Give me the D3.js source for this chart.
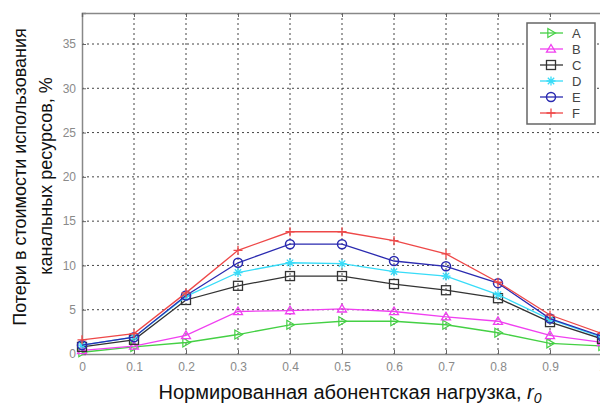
<!DOCTYPE html>
<html>
<head>
<meta charset="UTF-8"/>
<script src="https://d3js.org/d3.v7.min.js"></script>
<style>
  body { margin: 0; background: #fff; }
  text { font-family: "Liberation Sans", Arial, sans-serif; }
</style>
</head>
<body>
<script>
    // Data
    var loads = [0, 0.1, 0.2, 0.3, 0.4, 0.5, 0.6, 0.7, 0.8, 0.9, 1.0];
    var seriesNames = ["A", "B", "C", "D", "E", "F"];
    var valuesA = [0.2, 0.8, 1.3, 2.2, 3.3, 3.7, 3.7, 3.3, 2.4, 1.2, 0.9];
    var valuesB = [0.4, 0.9, 2.1, 4.8, 4.9, 5.1, 4.8, 4.2, 3.7, 2.1, 1.3];
    var valuesC = [0.8, 1.6, 6.1, 7.7, 8.8, 8.8, 7.9, 7.2, 6.3, 3.6, 1.7];
    var valuesD = [1.0, 1.9, 6.5, 9.2, 10.3, 10.2, 9.3, 8.8, 6.7, 3.9, 1.9];
    var valuesE = [1.0, 1.9, 6.6, 10.3, 12.4, 12.4, 10.5, 9.9, 8.0, 4.0, 2.0];
    var valuesF = [1.6, 2.3, 6.9, 11.7, 13.8, 13.8, 12.8, 11.3, 8.1, 4.4, 2.3];
    var yTicks = [0, 5, 10, 15, 20, 25, 30, 35];

    var allValues = [valuesA, valuesB, valuesC, valuesD, valuesE, valuesF];
    var colors = ["#44d044", "#f040f0", "#333333", "#38dcf8", "#2a2ab0", "#ee4848"];
    var markers = ["tri-right", "tri-up", "square", "star", "circle", "plus"];

    var width = 600, height = 405;
    var pLeft = 82, pRight = 602, pTop = 13, pBottom = 354;

    var svg = d3.select("body").append("svg")
                .attr("width", width)
                .attr("height", height);

    var x = d3.scaleLinear().domain([0, 1]).range([pLeft, pRight]);
    var y = d3.scaleLinear().domain([0, 38.5]).range([pBottom, pTop]);

    // plot area
    svg.append("rect")
       .attr("x", pLeft).attr("y", pTop)
       .attr("width", pRight - pLeft).attr("height", pBottom - pTop)
       .attr("fill", "#fff");

    // dotted grid
    svg.append("g")
       .selectAll("line")
       .data(loads.slice(1))
       .enter().append("line")
       .attr("x1", function(d) { return x(d); })
       .attr("x2", function(d) { return x(d); })
       .attr("y1", pTop).attr("y2", pBottom)
       .attr("stroke", "#444").attr("stroke-width", 1)
       .attr("stroke-dasharray", "2,3");

    svg.append("g")
       .selectAll("line")
       .data(yTicks.slice(1))
       .enter().append("line")
       .attr("y1", function(d) { return y(d); })
       .attr("y2", function(d) { return y(d); })
       .attr("x1", pLeft).attr("x2", pRight)
       .attr("stroke", "#444").attr("stroke-width", 1)
       .attr("stroke-dasharray", "2,3");

    // axes (MATLAB style, ticks inward)
    var xAxis = d3.axisBottom(x).tickValues(loads).tickSize(-4).tickPadding(8)
                  .tickFormat(function(d) { return d === 0 ? "0" : d === 1 ? "1" : d3.format(".1f")(d); });
    var yAxis = d3.axisLeft(y).tickValues(yTicks).tickSize(-4).tickPadding(6);

    var gx = svg.append("g")
       .attr("transform", "translate(0," + pBottom + ")")
       .call(xAxis);
    var gy = svg.append("g")
       .attr("transform", "translate(" + pLeft + ",0)")
       .call(yAxis);

    svg.append("g")
       .attr("transform", "translate(0," + pTop + ")")
       .call(d3.axisTop(x).tickValues(loads).tickSize(-4).tickFormat(""));

    [gx, gy].forEach(function(g) {
        g.selectAll("text").attr("fill", "#8a8a8a").style("font-size", "12px");
    });
    svg.selectAll(".domain").attr("stroke", "#888").attr("stroke-width", 1.5);
    svg.selectAll(".tick line").attr("stroke", "#666");

    // lines and markers
    var line = d3.line()
                 .x(function(d, i) { return x(loads[i]); })
                 .y(function(d) { return y(d); });

    function drawMarker(g, type, cx, cy, color) {
        var s = 4.5;
        if (type === "circle") {
            g.append("circle").attr("cx", cx).attr("cy", cy).attr("r", s)
             .attr("fill", "none").attr("stroke", color).attr("stroke-width", 1.5);
        } else if (type === "square") {
            g.append("rect").attr("x", cx - s).attr("y", cy - s).attr("width", 2 * s).attr("height", 2 * s)
             .attr("fill", "none").attr("stroke", color).attr("stroke-width", 1.3);
        } else if (type === "tri-up") {
            g.append("path")
             .attr("d", "M" + cx + "," + (cy - s) + "L" + (cx + s) + "," + (cy + s * 0.7) + "L" + (cx - s) + "," + (cy + s * 0.7) + "Z")
             .attr("fill", "none").attr("stroke", color).attr("stroke-width", 1.3);
        } else if (type === "tri-right") {
            g.append("path")
             .attr("d", "M" + (cx + s) + "," + cy + "L" + (cx - s * 0.7) + "," + (cy - s) + "L" + (cx - s * 0.7) + "," + (cy + s) + "Z")
             .attr("fill", "none").attr("stroke", color).attr("stroke-width", 1.2);
        } else if (type === "star") {
            var p = "";
            for (var k = 0; k < 4; k++) {
                var a = k * Math.PI / 4;
                p += "M" + (cx - s * Math.cos(a)) + "," + (cy - s * Math.sin(a)) +
                     "L" + (cx + s * Math.cos(a)) + "," + (cy + s * Math.sin(a));
            }
            g.append("path").attr("d", p).attr("stroke", color).attr("stroke-width", 1.3);
        } else if (type === "plus") {
            g.append("path")
             .attr("d", "M" + (cx - s) + "," + cy + "L" + (cx + s) + "," + cy + "M" + cx + "," + (cy - s) + "L" + cx + "," + (cy + s))
             .attr("stroke", color).attr("stroke-width", 1.3);
        }
    }

    var plot = svg.append("g");
    allValues.forEach(function(vals, si) {
        var g = plot.append("g");
        g.append("path")
         .datum(vals)
         .attr("d", line)
         .attr("fill", "none")
         .attr("stroke", colors[si])
         .attr("stroke-width", 1.3);
        vals.forEach(function(v, i) {
            drawMarker(g, markers[si], x(loads[i]), y(v), colors[si]);
        });
    });

    // legend
    var lg = svg.append("g");
    lg.append("rect")
      .attr("x", 527).attr("y", 23).attr("width", 68).attr("height", 101)
      .attr("fill", "#fff").attr("stroke", "#666").attr("stroke-width", 1.5);
    seriesNames.forEach(function(name, i) {
        var ly = 33 + i * 16;
        lg.append("line").attr("x1", 540).attr("x2", 563).attr("y1", ly).attr("y2", ly)
          .attr("stroke", colors[i]).attr("stroke-width", 1.3);
        drawMarker(lg, markers[i], 551, ly, colors[i]);
        lg.append("text").attr("x", 572).attr("y", ly + 5)
          .style("font-size", "13px").attr("fill", "#444").text(name);
    });

    // axis titles
    var xt = svg.append("text")
       .attr("x", 350).attr("y", 399)
       .attr("text-anchor", "middle")
       .style("font-size", "20px").attr("fill", "#111");
    xt.append("tspan").text("Нормированная  абонентская нагрузка, ");
    xt.append("tspan").style("font-style", "italic").text("r");
    xt.append("tspan").style("font-style", "italic").style("font-size", "14px").attr("dy", 4).text("0");

    svg.append("text")
       .attr("transform", "translate(26,177) rotate(-90)")
       .attr("text-anchor", "middle")
       .style("font-size", "18px").attr("fill", "#111")
       .text("Потери в стоимости использования");
    svg.append("text")
       .attr("transform", "translate(52,176) rotate(-90)")
       .attr("text-anchor", "middle")
       .style("font-size", "18px").attr("fill", "#111")
       .text("канальных ресурсов, %");
</script>
</body>
</html>
